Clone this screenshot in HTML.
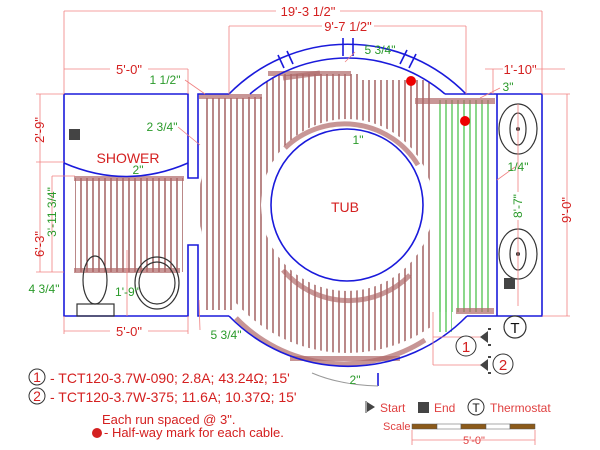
<!DOCTYPE html>
<html><head><meta charset="utf-8"><style>
html,body{margin:0;padding:0;background:#fff;}
svg{display:block;font-family:"Liberation Sans",sans-serif;}
</style></head><body>
<svg width="600" height="450" viewBox="0 0 600 450" xmlns="http://www.w3.org/2000/svg">
<defs>
<pattern id="br" x="0" y="0" width="12" height="450" patternUnits="userSpaceOnUse">
<line x1="3" y1="0" x2="3" y2="450" stroke="#8b3a3a" stroke-width="1.2"/>
<line x1="9" y1="0" x2="9" y2="450" stroke="#8b3a3a" stroke-width="1.2"/>
</pattern>
<pattern id="gr" x="0" y="0" width="12" height="450" patternUnits="userSpaceOnUse">
<line x1="2" y1="0" x2="2" y2="450" stroke="#2cb82c" stroke-width="1.1"/>
<line x1="8" y1="0" x2="8" y2="450" stroke="#2cb82c" stroke-width="1.1"/>
</pattern>
<mask id="m1">
<rect x="0" y="0" width="600" height="450" fill="#000"/>
<circle cx="347" cy="205" r="148" fill="#fff"/>
<rect x="203" y="98" width="30" height="212" fill="#fff"/>
<rect x="203" y="98" width="60" height="40" fill="#fff"/>
<circle cx="347" cy="205" r="86" fill="#000"/>
<rect x="433" y="0" width="200" height="450" fill="#000"/>
<rect x="0" y="0" width="600" height="74" fill="#000"/>
<rect x="0" y="0" width="265" height="97" fill="#000"/>
<rect x="360" y="0" width="80" height="80" fill="#000"/>
</mask>
</defs>

<!-- cables -->
<rect x="0" y="0" width="600" height="450" fill="url(#br)" mask="url(#m1)"/>
<rect x="75" y="178" width="108" height="94" fill="url(#br)"/>
<rect x="438" y="100" width="54" height="212" fill="url(#gr)"/>
<rect x="438" y="290" width="14" height="42" fill="url(#gr)"/>

<!-- bands -->
<g fill="#b06a6a" opacity="0.7">
<rect x="199" y="94" width="63" height="5"/>
<rect x="268" y="71" width="83" height="5"/>
<rect x="74" y="176" width="110" height="5"/>
<rect x="74" y="268" width="106" height="5"/>
<rect x="415" y="98" width="80" height="6"/>
<rect x="456" y="308" width="38" height="6"/>
<rect x="290" y="356" width="110" height="5"/>
</g>
<g fill="none" stroke="#b06a6a" stroke-width="5" opacity="0.7">
<path d="M285,148 A86,86 0 0 1 418,165"/>
<path d="M283,270 A86,86 0 0 0 410,275"/>
<path d="M236,318 A150,150 0 0 0 425,340"/>
<path d="M283,78 L320,73"/>
</g>

<!-- walls -->
<g fill="none" stroke="#1a1adb" stroke-width="1.6">
<path d="M64,94 H188 V178 H198 V94 H229"/>
<path d="M64,94 V316 H188 V245 H198 V316 H229"/>
<path d="M64,163 Q126,190 188,163"/>
<path d="M229,94 A166,166 0 0 1 466,94"/>
<path d="M250,94 A150,150 0 0 1 445,94"/>
<path d="M229,316 A166,166 0 0 0 467,316"/>
<path d="M445,94 H542 V316 H467"/>
<line x1="497" y1="94" x2="497" y2="316"/>
<circle cx="347" cy="205" r="76"/>
<line x1="343" y1="38" x2="343" y2="56"/><line x1="353" y1="38" x2="353" y2="56"/>
<line x1="407" y1="50" x2="400" y2="64"/><line x1="416" y1="54" x2="409" y2="68"/>
<line x1="287" y1="51" x2="293" y2="64"/><line x1="278" y1="55" x2="284" y2="68"/>
<line x1="378" y1="373" x2="378" y2="386"/>
</g>
<path d="M312,373 Q340,385 378,386" fill="none" stroke="#999" stroke-width="1"/>

<!-- fixtures -->
<g fill="none" stroke="#333" stroke-width="1.2">
<ellipse cx="95" cy="280" rx="12" ry="24"/>
<rect x="77" y="304" width="37" height="12"/>
<ellipse cx="157" cy="283" rx="22" ry="26"/>
<ellipse cx="157" cy="283" rx="18" ry="21"/>
<ellipse cx="518" cy="129" rx="19" ry="25"/>
<ellipse cx="518" cy="129" rx="8" ry="16"/>
<ellipse cx="518" cy="254" rx="19" ry="25"/>
<ellipse cx="518" cy="254" rx="8" ry="16"/>
</g>
<circle cx="518" cy="129" r="2" fill="#333"/><circle cx="518" cy="254" r="2" fill="#333"/>
<rect x="69" y="129" width="11" height="11" fill="#444"/>
<rect x="504" y="278" width="11" height="11" fill="#444"/>
<circle cx="411" cy="81" r="5" fill="#e00"/>
<circle cx="465" cy="121" r="5" fill="#e00"/>

<!-- dimension lines -->
<g stroke="#f08080" stroke-width="0.8" fill="none">
<line x1="64" y1="11" x2="542" y2="11"/>
<line x1="229" y1="26" x2="466" y2="26"/>
<line x1="64" y1="69" x2="188" y2="69"/>
<line x1="485" y1="69" x2="565" y2="69"/>
<line x1="64" y1="11" x2="64" y2="94"/>
<line x1="542" y1="11" x2="542" y2="94"/>
<line x1="229" y1="26" x2="229" y2="94"/>
<line x1="466" y1="26" x2="466" y2="94"/>
<line x1="188" y1="69" x2="188" y2="94"/>
<line x1="493" y1="69" x2="493" y2="94"/>
<line x1="36" y1="94" x2="64" y2="94"/>
<line x1="40" y1="94" x2="40" y2="272"/>
<line x1="36" y1="162" x2="64" y2="162"/>
<line x1="36" y1="272" x2="64" y2="272"/>
<line x1="52" y1="176" x2="52" y2="272"/>
<line x1="52" y1="176" x2="75" y2="176"/>
<line x1="542" y1="94" x2="570" y2="94"/>
<line x1="567" y1="94" x2="567" y2="316"/>
<line x1="542" y1="316" x2="570" y2="316"/>
<line x1="518" y1="104" x2="518" y2="306"/>
<line x1="64" y1="316" x2="64" y2="334"/>
<line x1="188" y1="316" x2="188" y2="334"/>
<line x1="64" y1="331" x2="188" y2="331"/>
<line x1="127" y1="250" x2="127" y2="316"/>
<line x1="200" y1="330" x2="199" y2="300"/>
<line x1="433" y1="312" x2="433" y2="365"/>
<line x1="433" y1="337" x2="484" y2="337"/>
<line x1="433" y1="365" x2="484" y2="365"/>
<line x1="412" y1="440" x2="535" y2="440"/>
<line x1="412" y1="430" x2="412" y2="445"/><line x1="535" y1="430" x2="535" y2="445"/>
<line x1="185" y1="80" x2="205" y2="94"/>
<line x1="178" y1="127" x2="200" y2="145"/>
<line x1="500" y1="88" x2="480" y2="98"/>
<line x1="515" y1="167" x2="497" y2="180"/>
<line x1="355" y1="52" x2="345" y2="62"/>
</g>

<!-- dimension text -->
<g fill="#d42020" font-size="13" text-anchor="middle">
<rect x="276" y="3" width="64" height="15" fill="#fff"/>
<text x="308" y="16">19'-3 1/2"</text>
<rect x="322" y="18" width="52" height="15" fill="#fff"/>
<text x="348" y="31">9'-7 1/2"</text>
<rect x="110" y="62" width="38" height="15" fill="#fff"/>
<text x="129" y="74">5'-0"</text>
<rect x="503" y="62" width="32" height="15" fill="#fff"/>
<text x="520" y="74">1'-10"</text>
<rect x="110" y="324" width="38" height="15" fill="#fff"/>
<text x="129" y="336">5'-0"</text>
<text x="44" y="130" transform="rotate(-90 44 130)">2'-9"</text>
<text x="44" y="244" transform="rotate(-90 44 244)">6'-3"</text>
<text x="571" y="210" transform="rotate(-90 571 210)">9'-0"</text>
<text x="128" y="163" font-size="14">SHOWER</text>
<text x="345" y="212" font-size="14">TUB</text>
</g>
<g fill="#2a9a2a" font-size="12" text-anchor="middle">
<text x="165" y="84">1 1/2"</text>
<text x="162" y="131">2 3/4"</text>
<text x="138" y="174">2"</text>
<text x="380" y="54">5 3/4"</text>
<text x="358" y="144">1"</text>
<text x="508" y="91">3"</text>
<text x="518" y="171">1/4"</text>
<text x="127" y="296">1'-9"</text>
<text x="44" y="293">4 3/4"</text>
<text x="226" y="339">5 3/4"</text>
<text x="355" y="384">2"</text>
<text x="56" y="212" transform="rotate(-90 56 212)">3'-11 3/4"</text>
<rect x="512" y="192" width="12" height="28" fill="#fff"/>
<text x="522" y="206" transform="rotate(-90 522 206)">8'-7"</text>
</g>

<!-- markers -->
<circle cx="515" cy="327" r="11" fill="#fff" stroke="#333" stroke-width="1.2"/>
<text x="515" y="333" font-size="15" text-anchor="middle" fill="#111">T</text>
<circle cx="466" cy="346" r="10" fill="#fff" stroke="#333" stroke-width="1"/>
<text x="466" y="352" font-size="15" text-anchor="middle" fill="#d42020">1</text>
<circle cx="503" cy="364" r="10" fill="#fff" stroke="#333" stroke-width="1"/>
<text x="503" y="370" font-size="15" text-anchor="middle" fill="#d42020">2</text>
<g fill="#444">
<polygon points="480,337 488,331 488,343"/><rect x="488" y="328" width="3" height="2"/><rect x="488" y="344" width="3" height="2"/>
<polygon points="480,365 488,359 488,371"/><rect x="488" y="356" width="3" height="2"/><rect x="488" y="372" width="3" height="2"/>
</g>

<!-- legend -->
<g font-size="14" fill="#d42020">
<circle cx="37" cy="377" r="8" fill="#fff" stroke="#333"/>
<text x="37" y="382" text-anchor="middle">1</text>
<text x="50" y="383">- TCT120-3.7W-090; 2.8A; 43.24Ω; 15'</text>
<circle cx="37" cy="396" r="8" fill="#fff" stroke="#333"/>
<text x="37" y="401" text-anchor="middle">2</text>
<text x="50" y="402">- TCT120-3.7W-375; 11.6A; 10.37Ω; 15'</text>
<text x="102" y="424" font-size="13">Each run spaced @ 3".</text>
<circle cx="97" cy="433" r="5" fill="#d42020"/>
<text x="104" y="437" font-size="13">- Half-way mark for each cable.</text>
</g>
<g font-size="12" fill="#e04040">
<polygon points="367,402 375,407 367,412" fill="#444"/><line x1="366" y1="401" x2="366" y2="413" stroke="#444"/>
<text x="380" y="412">Start</text>
<rect x="418" y="402" width="11" height="11" fill="#444"/>
<text x="434" y="412">End</text>
<circle cx="476" cy="407" r="8" fill="#fff" stroke="#333"/>
<text x="476" y="412" text-anchor="middle" fill="#111">T</text>
<text x="490" y="412">Thermostat</text>
<text x="383" y="430" font-size="11">Scale</text>
<text x="474" y="444" font-size="11" text-anchor="middle">5'-0"</text>
</g>
<g stroke="#555" stroke-width="0.5">
<rect x="412" y="424" width="25" height="5" fill="#8b5a1a"/>
<rect x="437" y="424" width="24" height="5" fill="#fff"/>
<rect x="461" y="424" width="25" height="5" fill="#8b5a1a"/>
<rect x="486" y="424" width="24" height="5" fill="#fff"/>
<rect x="510" y="424" width="25" height="5" fill="#8b5a1a"/>
</g>
</svg>
</body></html>
